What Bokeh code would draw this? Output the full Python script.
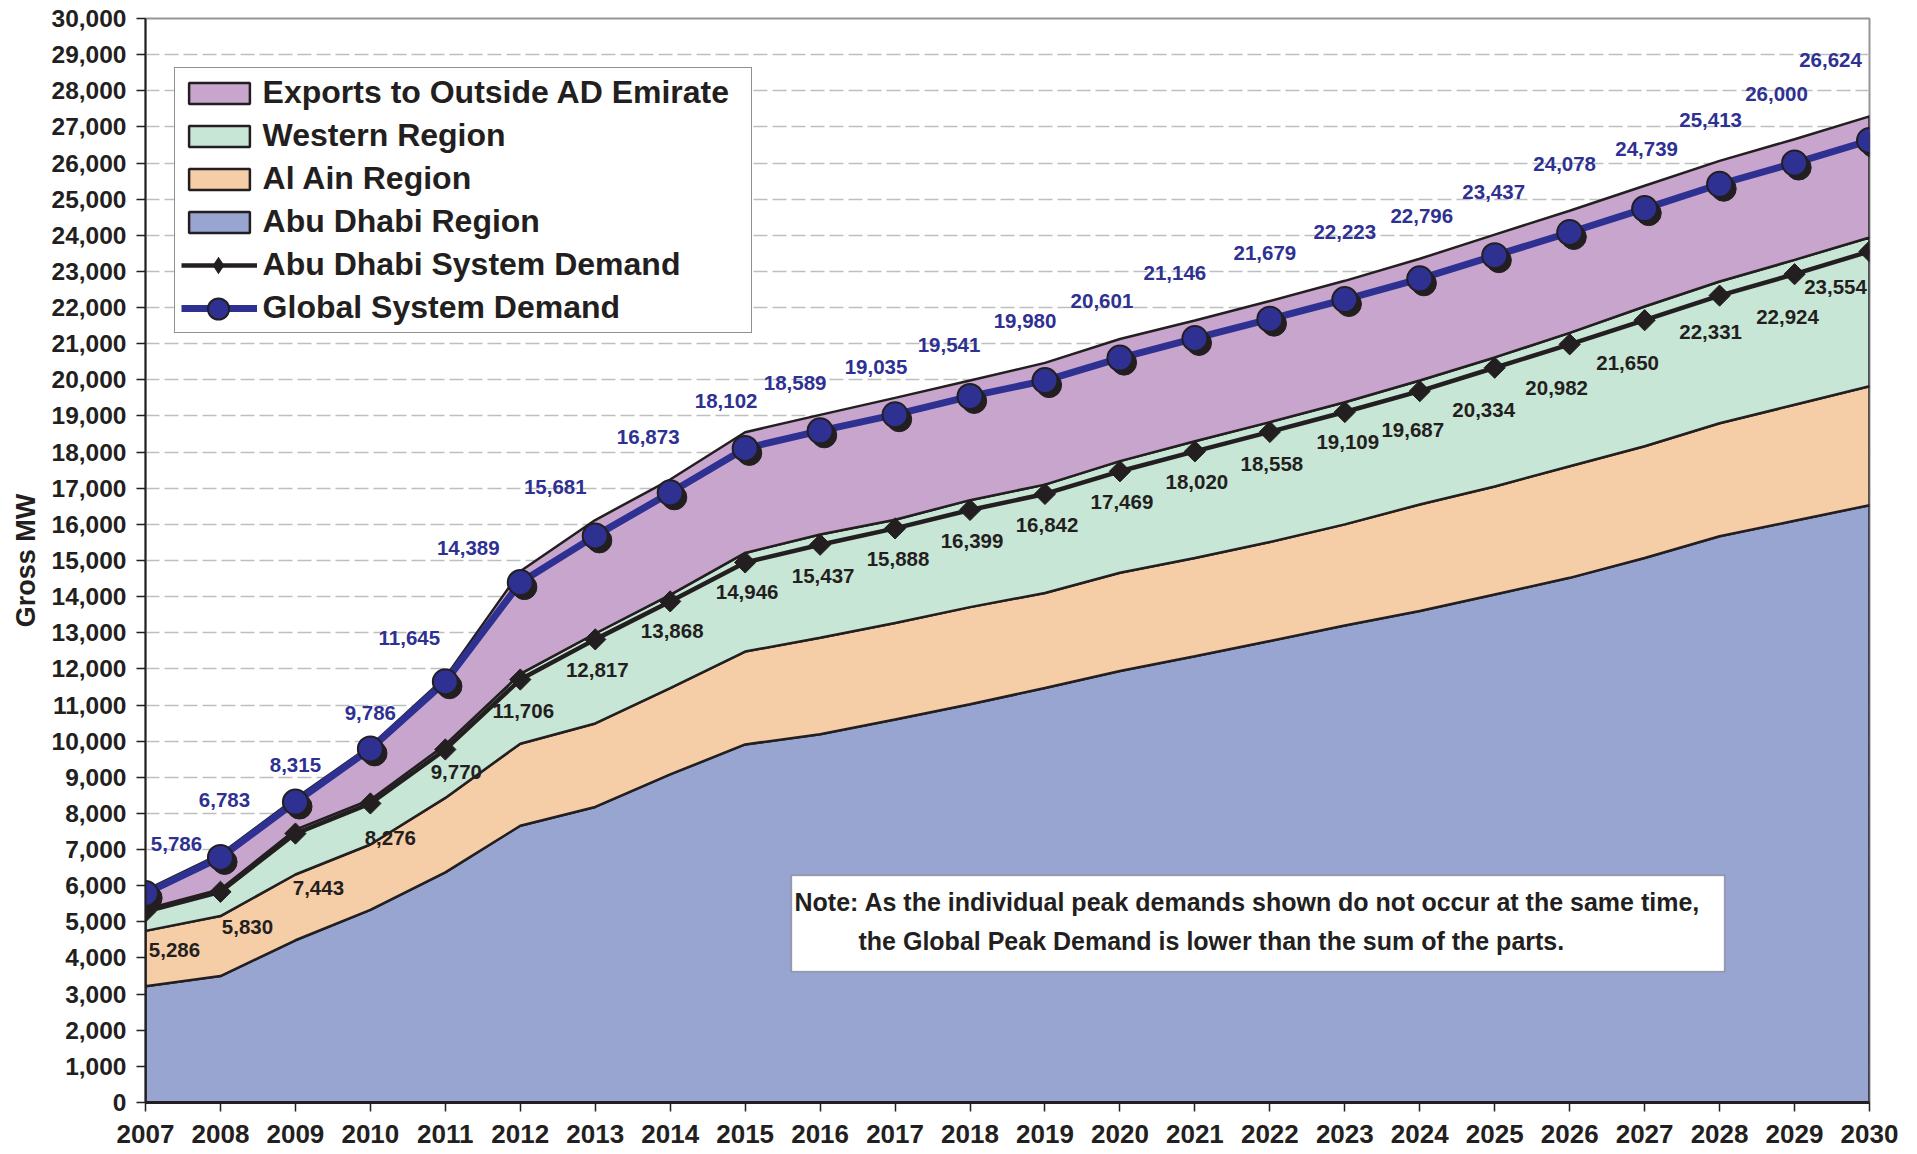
import numpy as np
from bokeh.plotting import figure
from bokeh.models import (ColumnDataSource, Legend, LegendItem, Label, BoxAnnotation,
                          FixedTicker, NumeralTickFormatter, Range1d)
from bokeh.transform import dodge
from bokeh.core.properties import value
from bokeh.embed import file_html
from bokeh.resources import INLINE

# ---------------- data ----------------
years = list(range(2007, 2031))
abu_dhabi_region = [3220, 3500, 4490, 5330, 6370, 7660, 8180, 9080, 9910, 10190, 10600, 11020,
                    11470, 11940, 12350, 12770, 13200, 13600, 14060, 14520, 15070, 15670, 16100, 16530]
al_ain_region = [1530, 1660, 1820, 1810, 2060, 2270, 2310, 2390, 2570, 2670, 2670, 2690,
                 2630, 2720, 2720, 2740, 2800, 2950, 2990, 3090, 3090, 3130, 3210, 3290]
western_region = [600, 740, 1240, 1240, 1470, 1930, 2490, 2580, 2730, 2860, 2860, 2960,
                  3000, 3090, 3230, 3320, 3380, 3430, 3570, 3690, 3870, 3920, 4010, 4120]
exports_outside = [530, 980, 870, 1490, 1870, 2840, 3140, 3190, 3340, 3310, 3370, 3310,
                   3370, 3380, 3340, 3350, 3360, 3370, 3400, 3380, 3340, 3340, 3340, 3350]
ad_system_demand = [5286, 5830, 7443, 8276, 9770, 11706, 12817, 13868, 14946, 15437, 15888, 16399,
                    16842, 17469, 18020, 18558, 19109, 19687, 20334, 20982, 21650, 22331, 22924, 23554]
global_demand = [5786, 6783, 8315, 9786, 11645, 14389, 15681, 16873, 18102, 18589, 19035, 19541,
                 19980, 20601, 21146, 21679, 22223, 22796, 23437, 24078, 24739, 25413, 26000, 26624]
y_ticks = list(range(0, 30001, 1000))

# label placement (screen pixel offsets from each point)
blue_dx = [31, 4, 0, 0, -36, -52, -40, -22, -19, -25, -19, -21, -20, -18, -20, -5, 0, 2, -1, -5, 2, -9, -18, -39]
blue_dy = [-49, -57, -37, -36, -44, -35, -49, -56, -47, -48, -48, -51, -60, -57, -65, -66, -68, -63, -64, -68, -60, -64, -69, -80]
black_dx = [29, 27, 23, 20, 11, 3, 2, 2, 2, 3, 3, 2, 2, 2, 2, 2, 3, -7, -11, -13, -17, -9, -7, -34]
black_dy = [39, 35, 54, 35, 23, 31, 31, 30, 30, 31, 31, 31, 31, 31, 31, 32, 30, 39, 42, 44, 43, 36, 43, 36]

# ---------------- styles ----------------
FONT = "Liberation Sans"
INK = "#231F20"
BLUE = "#2E3192"
C_AD = "#99A5D1"
C_AIN = "#F5CDA7"
C_WEST = "#C8E6D6"
C_EXP = "#C8A5CC"

p = figure(frame_width=1724, frame_height=1084, output_backend="svg", toolbar_location=None,
           x_range=Range1d(2007, 2030), y_range=Range1d(0, 30000), title=None,
           min_border_left=145, min_border_right=39, min_border_top=18, min_border_bottom=50)
p.background_fill_color = "white"
p.border_fill_color = "white"
p.outline_line_color = "#939598"
p.outline_line_width = 2

# stacked areas
layers = [("Abu Dhabi Region", abu_dhabi_region, C_AD),
          ("Al Ain Region", al_ain_region, C_AIN),
          ("Western Region", western_region, C_WEST),
          ("Exports to Outside AD Emirate", exports_outside, C_EXP)]
bottom = np.zeros(len(years))
area_r = {}
for name, vals, col in layers:
    top = bottom + np.array(vals, dtype=float)
    xs = years + years[::-1]
    ys = list(top) + list(bottom[::-1])
    area_r[name] = p.patch(xs, ys, fill_color=col, line_color=INK, line_width=2.5)
    bottom = top

src = ColumnDataSource(dict(x=years, ad=ad_system_demand, gl=global_demand,
                            ad_lab=[f"{v:,}" for v in ad_system_demand],
                            gl_lab=[f"{v:,}" for v in global_demand],
                            bdx=blue_dx, bdy=blue_dy, kdx=black_dx, kdy=black_dy))

ad_line = p.line("x", "ad", source=src, line_color=INK, line_width=4.5)
ad_mark = p.scatter("x", "ad", source=src, marker="square", angle=np.pi / 4, size=15,
                    fill_color=INK, line_color=INK)
# zero-size diamond on the same data: invisible in the plot, used as the legend key
ad_key = p.scatter("x", "ad", source=src, marker="diamond", size=0, fill_color=INK,
                   line_color=None)

gl_line = p.line("x", "gl", source=src, line_color=BLUE, line_width=7)
p.scatter(dodge("x", 0.055, range=p.x_range), dodge("gl", -125, range=p.y_range), source=src,
          marker="circle", size=25, fill_color=INK, line_color=INK)
gl_mark = p.scatter("x", "gl", source=src, marker="circle", size=25, fill_color=BLUE,
                    line_color=INK, line_width=2)

p.text("x", "ad", text="ad_lab", source=src, text_font=value(FONT), text_font_style="bold",
       text_font_size="20.5px", text_color=INK, text_align="center", text_baseline="middle",
       x_offset="kdx", y_offset="kdy")
p.text("x", "gl", text="gl_lab", source=src, text_font=value(FONT), text_font_style="bold",
       text_font_size="20.5px", text_color=BLUE, text_align="center", text_baseline="middle",
       x_offset="bdx", y_offset="bdy")

# axes
p.xgrid.grid_line_color = None
p.ygrid.ticker = FixedTicker(ticks=y_ticks)
p.ygrid.grid_line_color = "#BCBEC0"
p.ygrid.grid_line_width = 1.5
p.ygrid.grid_line_dash = "14 5"

p.yaxis.ticker = FixedTicker(ticks=y_ticks)
p.yaxis.formatter = NumeralTickFormatter(format="0,0")
p.xaxis.ticker = FixedTicker(ticks=years)
for ax in (p.xaxis, p.yaxis):
    ax.axis_line_color = INK
    ax.major_tick_line_color = INK
    ax.major_tick_line_width = 1.5
    ax.major_tick_out = 9
    ax.major_tick_in = 0
    ax.minor_tick_line_color = None
    ax.major_label_text_font = FONT
    ax.major_label_text_font_style = "bold"
    ax.major_label_text_color = INK
p.yaxis.axis_line_width = 2
p.xaxis.axis_line_width = 3
p.yaxis.major_label_text_font_size = "24.5px"
p.xaxis.major_label_text_font_size = "26px"
p.yaxis.major_label_standoff = 10
p.xaxis.major_label_standoff = 13
p.yaxis.axis_label = "Gross MW"
p.yaxis.axis_label_text_font = FONT
p.yaxis.axis_label_text_font_style = "bold"
p.yaxis.axis_label_text_font_size = "27px"
p.yaxis.axis_label_text_color = INK
p.yaxis.axis_label_standoff = 8

# legend
items = [LegendItem(label="Exports to Outside AD Emirate", renderers=[area_r["Exports to Outside AD Emirate"]]),
         LegendItem(label="Western Region", renderers=[area_r["Western Region"]]),
         LegendItem(label="Al Ain Region", renderers=[area_r["Al Ain Region"]]),
         LegendItem(label="Abu Dhabi Region", renderers=[area_r["Abu Dhabi Region"]]),
         LegendItem(label="Abu Dhabi System Demand", renderers=[ad_line]),
         LegendItem(label="Global System Demand", renderers=[gl_line])]
legend = Legend(items=items, location=(28.6, 768.6), glyph_width=76, glyph_height=26,
                padding=6, spacing=6, label_standoff=6, label_width=482,
                label_text_font=FONT, label_text_font_style="bold", label_text_font_size="32px",
                label_text_color=INK, border_line_color=INK, border_line_width=1.5,
                background_fill_color="white", background_fill_alpha=1.0)
p.add_layout(legend)

# larger legend markers drawn over the main legend's glyph slots
for rend, gh, ly in ((gl_mark, 53, 766.8), (ad_key, 44, 814.7)):
    p.add_layout(Legend(items=[LegendItem(label=" ", renderers=[rend])], location=(34.6, ly),
                        glyph_width=76, glyph_height=gh, padding=0, spacing=0, label_standoff=0,
                        label_text_font_size="1px", label_height=1, label_width=1,
                        border_line_color=None, background_fill_alpha=0.0))

# note box
p.add_layout(BoxAnnotation(left=646, right=1579, bottom=131, top=227,
                           left_units="screen", right_units="screen",
                           bottom_units="screen", top_units="screen",
                           fill_color="white", fill_alpha=1.0, line_color=INK, line_width=1.5))
note1 = "Note: As the individual peak demands shown do not occur at the same time,"
note2 = "the Global Peak Demand is lower than the sum of the parts."
for txt, nx, ny in ((note1, 649, 201), (note2, 713, 162)):
    p.add_layout(Label(x=nx, y=ny, x_units="screen", y_units="screen", text=txt,
                       text_font=FONT, text_font_style="bold", text_font_size="25px",
                       text_color=INK, text_align="left", text_baseline="middle"))

open("out.html", "w").write(file_html(p, INLINE))
